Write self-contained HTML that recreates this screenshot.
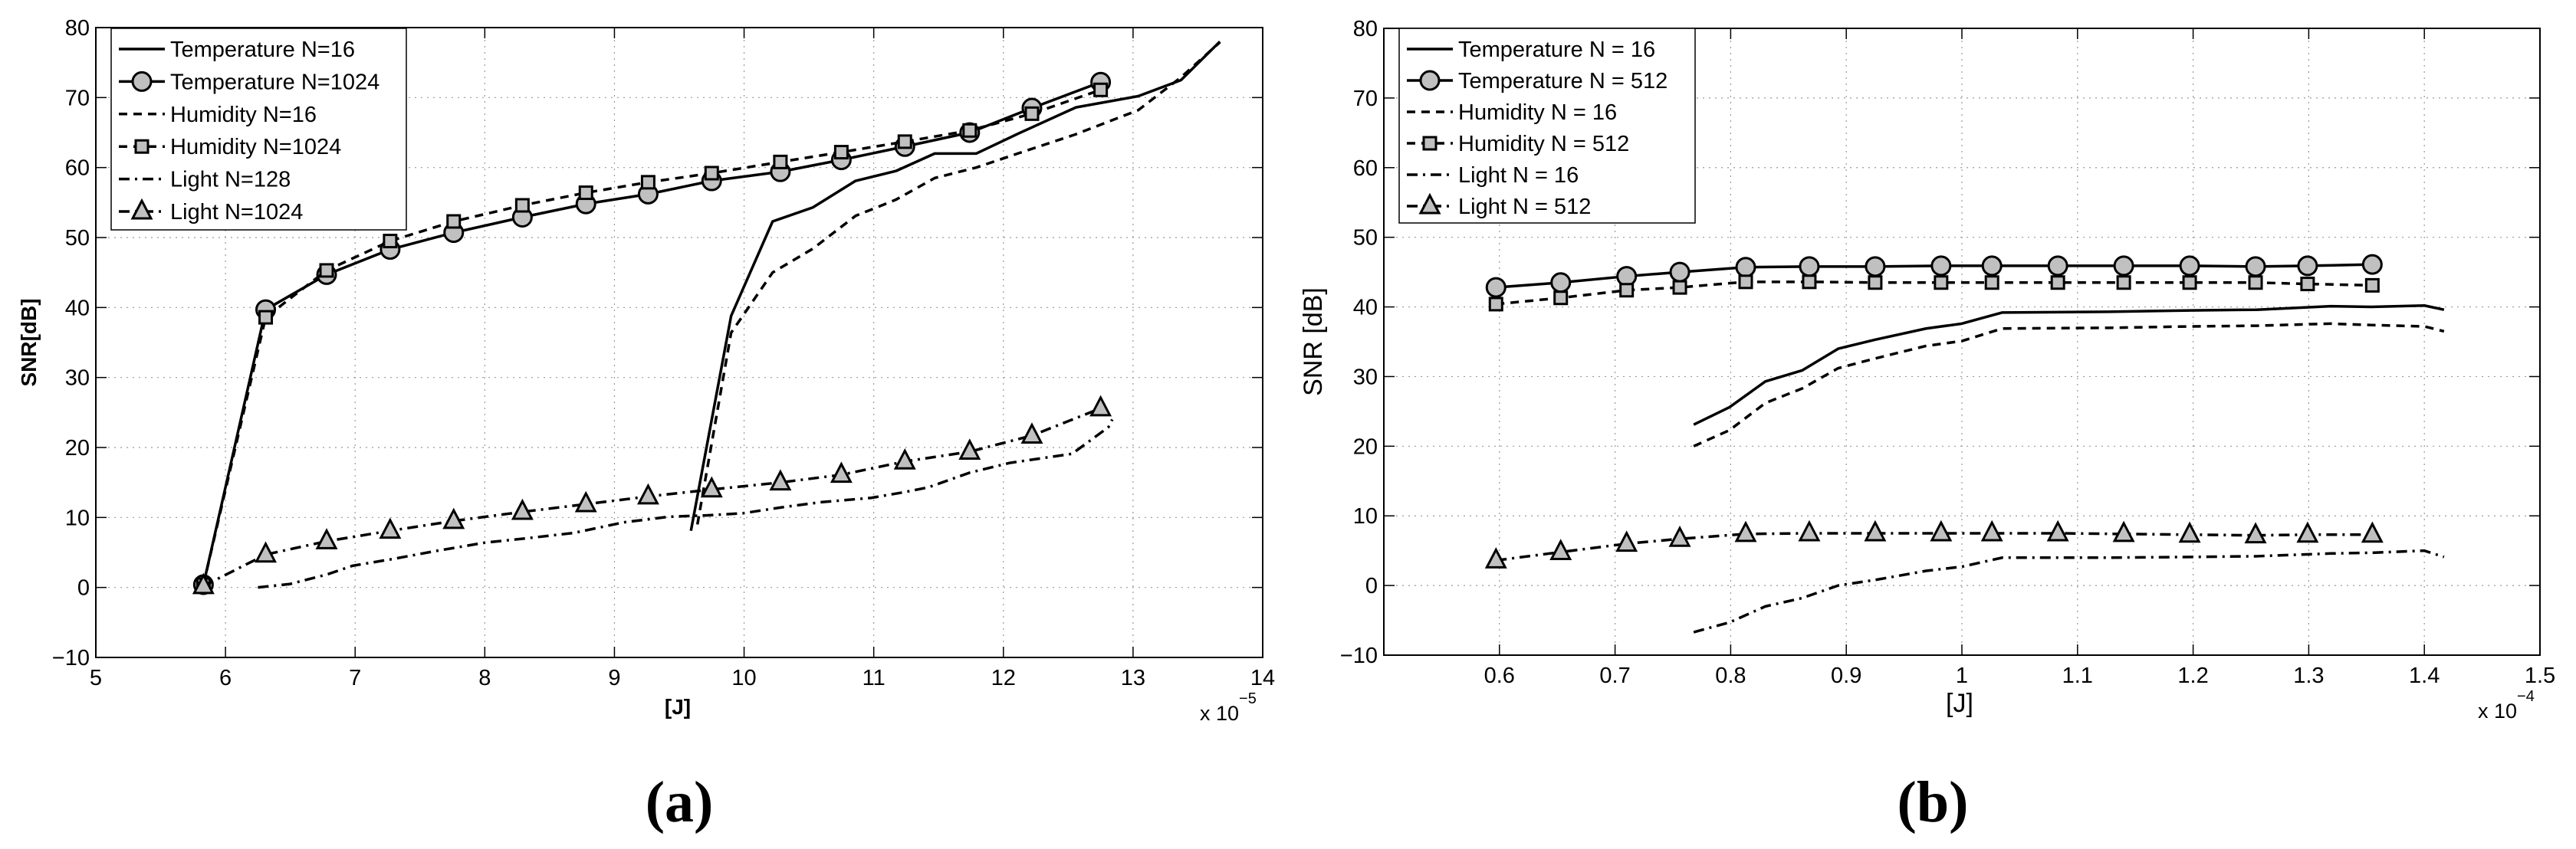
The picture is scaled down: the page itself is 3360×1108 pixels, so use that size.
<!DOCTYPE html>
<html><head><meta charset="utf-8"><style>
html,body{margin:0;padding:0;background:#fff}
svg{display:block}
text{font-family:"Liberation Sans",Arial,sans-serif;fill:#000}
</style></head><body>
<svg id="fig" width="3360" height="1108" viewBox="0 0 3360 1108" xmlns="http://www.w3.org/2000/svg">
<g id="ga"></g>
<g id="gb"></g>
<text x="886" y="1072" text-anchor="middle" style="font-family:'Liberation Serif',serif;font-size:76px;font-weight:bold">(a)</text>
<text x="2521" y="1072" text-anchor="middle" style="font-family:'Liberation Serif',serif;font-size:76px;font-weight:bold">(b)</text>
</svg>
<script>
// ---- chart (a) data ----
const aXTicks=[5,6,7,8,9,10,11,12,13,14];
const aYTicks=[-10,0,10,20,30,40,50,60,70,80];
const aMarkX=[5.83,6.31,6.78,7.27,7.76,8.29,8.78,9.26,9.75,10.28,10.75,11.24,11.74,12.22,12.75];
const aTemp1024=[0.4,39.7,44.7,48.3,50.7,52.9,54.8,56.2,58.1,59.4,61.1,63,65,68.5,72.2];
const aHum1024=[0.4,38.6,45.3,49.5,52.3,54.6,56.4,57.9,59.2,60.8,62.2,63.7,65.3,67.7,71.1];
const aLight1024=[0.2,4.7,6.6,8.1,9.5,10.8,11.9,13,14,15,16.1,18,19.4,21.7,25.6];
const aTemp16X=[9.59,9.9,10.22,10.53,10.86,11.17,11.47,11.79,12.12,12.56,13.04,13.37,13.67];
const aTemp16=[8.1,38.8,52.3,54.3,58.1,59.5,62,62,64.9,68.6,70.2,72.5,78];
const aHum16X=[9.64,9.9,10.22,10.53,10.86,11.17,11.47,11.79,12.11,12.55,13.04,13.37,13.67];
const aHum16=[9.0,36.4,45,48.4,53.1,55.4,58.5,60,62,64.7,68.2,72.9,77.9];
const aLight128X=[6.25,6.5,6.79,6.98,7.3,7.62,8.0,8.31,8.69,9.07,9.42,9.71,9.99,10.31,10.6,10.98,11.23,11.42,11.74,12.05,12.53,12.81,12.84];
const aLight128=[0,0.5,1.9,3.1,4.1,5.2,6.4,7,7.8,9.3,10.1,10.3,10.6,11.5,12.2,12.8,13.6,14.3,16.4,17.8,19.1,22.9,24.0];
const aLegend=["Temperature N=16","Temperature N=1024","Humidity N=16","Humidity N=1024","Light N=128","Light N=1024"];
// ---- chart (b) data ----
const bXTicks=[0.6,0.7,0.8,0.9,1,1.1,1.2,1.3,1.4,1.5];
const bXTickLabels=["0.6","0.7","0.8","0.9","1","1.1","1.2","1.3","1.4","1.5"];
const bYTicks=[-10,0,10,20,30,40,50,60,70,80];
const bMarkX=[0.597,0.653,0.71,0.756,0.813,0.868,0.925,0.982,1.026,1.083,1.14,1.197,1.254,1.299,1.355];
const bTemp512=[42.8,43.5,44.4,45.0,45.7,45.8,45.8,45.9,45.9,45.9,45.9,45.9,45.8,45.9,46.1];
const bHum512=[40.4,41.3,42.4,42.8,43.6,43.6,43.5,43.5,43.5,43.5,43.5,43.5,43.5,43.3,43.1];
const bLight512=[3.6,4.8,6.0,6.7,7.4,7.5,7.5,7.5,7.5,7.5,7.4,7.3,7.2,7.3,7.3];
const bLineX=[0.768,0.799,0.83,0.862,0.893,0.925,0.969,1.0,1.035,1.127,1.198,1.255,1.319,1.354,1.4,1.417];
const bTemp16=[23.1,25.6,29.3,30.9,34,35.3,36.9,37.6,39.2,39.3,39.5,39.6,40.1,40,40.2,39.6];
const bHum16=[20,22.3,26.2,28.3,31.2,32.6,34.4,35.1,36.9,37,37.2,37.3,37.6,37.4,37.2,36.5];
const bLight16=[-6.7,-5.3,-3,-1.8,0,0.8,2.1,2.7,4,4,4.1,4.2,4.6,4.7,5.0,4.1];
const bLegend=["Temperature N = 16","Temperature N = 512","Humidity N = 16","Humidity N = 512","Light N = 16","Light N = 512"];

const NS="http://www.w3.org/2000/svg";
function mk(parent,tag,attrs){const e=document.createElementNS(NS,tag);for(const k in attrs)e.setAttribute(k,attrs[k]);parent.appendChild(e);return e;}
const DASH={solid:"",dash:"11,8",dashdot:"14,7,3,7"};
function marker(g,type,x,y){
  let m;
  if(type==="circle"){m=mk(g,"circle",{cx:x,cy:y,r:12,fill:"#c0c0c0",stroke:"#000","stroke-width":3});}
  else if(type==="square"){m=mk(g,"rect",{x:x-8,y:y-8,width:16,height:16,fill:"#c0c0c0",stroke:"#000","stroke-width":3});}
  else if(type==="tri"){m=mk(g,"polygon",{points:(x)+","+(y-14)+" "+(x-12)+","+(y+9)+" "+(x+12)+","+(y+9),fill:"#c0c0c0",stroke:"#000","stroke-width":3});}
  if(m){
  }
}
function chart(g,L,R,T,B,xmin,xmax,ymin,ymax,xt,xtl,yt,series,legend,leg,ylab,ybold,ylabX,xlabX,expLabel,expX){
  const sx=v=>L+(v-xmin)/(xmax-xmin)*(R-L), sy=v=>B-(v-ymin)/(ymax-ymin)*(B-T);
  xt.forEach((v,i)=>{const x=sx(v);
    if(v>xmin&&v<xmax){const l=mk(g,"line",{x1:x,y1:T,x2:x,y2:B,stroke:"#999","stroke-width":1.2,"stroke-dasharray":"2,6"});
    
    }
    const tk=mk(g,"line",{x1:x,y1:B,x2:x,y2:B-14,stroke:"#000","stroke-width":1.5});
    
    
    const tk2=mk(g,"line",{x1:x,y1:T,x2:x,y2:T+14,stroke:"#000","stroke-width":1.5});
    
    
    const t=mk(g,"text",{x:x,y:B+36,"text-anchor":"middle","font-size":29});t.textContent=xtl?xtl[i]:String(v);
    
    
  });
  yt.forEach(v=>{const y=sy(v);
    if(v>ymin&&v<ymax){const l=mk(g,"line",{x1:L,y1:y,x2:R,y2:y,stroke:"#999","stroke-width":1.2,"stroke-dasharray":"2,6"});
    
    }
    const tk=mk(g,"line",{x1:L,y1:y,x2:L+14,y2:y,stroke:"#000","stroke-width":1.5});
    
    
    const tk2=mk(g,"line",{x1:R,y1:y,x2:R-14,y2:y,stroke:"#000","stroke-width":1.5});
    
    
    const t=mk(g,"text",{x:L-8,y:y+10,"text-anchor":"end","font-size":29});t.textContent=v<0?"\u2212"+Math.abs(v):String(v);
    
    
  });
  const box=mk(g,"rect",{x:L,y:T,width:R-L,height:B-T,fill:"none",stroke:"#000","stroke-width":2});
  
  
  series.forEach(s=>{
    const pts=s.x.map((xv,i)=>sx(xv)+","+sy(s.y[i])).join(" ");
    const pl=mk(g,"polyline",{points:pts,fill:"none",stroke:"#000","stroke-width":3.5,"stroke-dasharray":DASH[s.dash],"stroke-linejoin":"round"});
    
    
    if(s.marker)s.x.forEach((xv,i)=>marker(g,s.marker,sx(xv),sy(s.y[i])));
  });
  const lg=mk(g,"g",{});
  
  
  const lr=mk(lg,"rect",{x:leg.x,y:leg.y,width:leg.w,height:leg.h,fill:"#fff",stroke:"#000","stroke-width":1.5});
  
  
  series.forEach((s,i)=>{
    const y=leg.y+27+i*leg.dy;
    const ln=mk(lg,"line",{x1:leg.x+10,y1:y,x2:leg.x+70,y2:y,stroke:"#000","stroke-width":3.5,"stroke-dasharray":DASH[s.dash]});
    
    
    if(s.marker)marker(lg,s.marker,leg.x+40,y);
    const t=mk(lg,"text",{x:leg.x+77,y:y+10,"font-size":29});t.textContent=legend[i];
    
    
  });
  const yl=mk(g,"text",{x:0,y:0,"text-anchor":"middle","font-size":ybold?28:34,"font-weight":ybold?"bold":"normal",transform:"translate("+ylabX+","+((T+B)/2)+") rotate(-90)"});
  yl.textContent=ylab;
  
  
  const xl=mk(g,"text",{x:xlabX,y:B+74,"text-anchor":"middle","font-size":ybold?28:34,"font-weight":ybold?"bold":"normal"});
  xl.textContent="[J]";
  
  
  const ex=mk(g,"text",{x:expX,y:B+82,"font-size":27});
  ex.textContent="x 10";
  
  
  const es=mk(ex,"tspan",{dy:-22,"font-size":20});es.textContent=expLabel;
}
chart(document.getElementById("ga"),125,1647,36,858,5,14,-10,80,aXTicks,null,aYTicks,[
  {name:"temperature-n16-line",x:aTemp16X,y:aTemp16,dash:"solid"},
  {name:"temperature-n1024-line",x:aMarkX,y:aTemp1024,dash:"solid",marker:"circle"},
  {name:"humidity-n16-line",x:aHum16X,y:aHum16,dash:"dash"},
  {name:"humidity-n1024-line",x:aMarkX,y:aHum1024,dash:"dash",marker:"square"},
  {name:"light-n128-line",x:aLight128X,y:aLight128,dash:"dashdot"},
  {name:"light-n1024-line",x:aMarkX,y:aLight1024,dash:"dashdot",marker:"tri"}
],aLegend,{x:145,y:37,w:385,h:263,dy:42.4},"SNR[dB]",true,37+10,884,"\u22125",1565);
chart(document.getElementById("gb"),1805,3313,37,855,0.5,1.5,-10,80,bXTicks,bXTickLabels,bYTicks,[
  {name:"temperature-n16-line",x:bLineX,y:bTemp16,dash:"solid"},
  {name:"temperature-n512-line",x:bMarkX,y:bTemp512,dash:"solid",marker:"circle"},
  {name:"humidity-n16-line",x:bLineX,y:bHum16,dash:"dash"},
  {name:"humidity-n512-line",x:bMarkX,y:bHum512,dash:"dash",marker:"square"},
  {name:"light-n16-line",x:bLineX,y:bLight16,dash:"dashdot"},
  {name:"light-n512-line",x:bMarkX,y:bLight512,dash:"dashdot",marker:"tri"}
],bLegend,{x:1825,y:37,w:386,h:254,dy:41},"SNR [dB]",false,1712+12,2556,"\u22124",3232);
</script>
</body></html>
